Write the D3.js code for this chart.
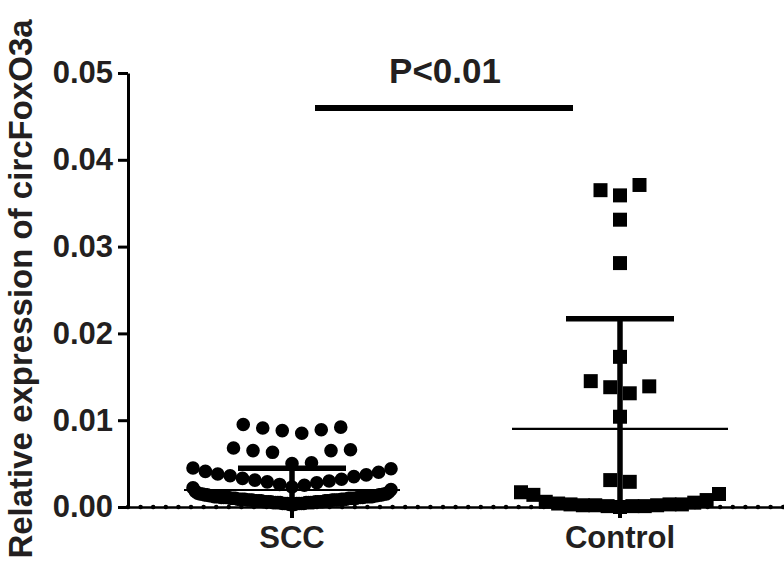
<!DOCTYPE html>
<html>
<head>
<meta charset="utf-8">
<script src="https://cdn.jsdelivr.net/npm/d3@7/dist/d3.min.js"></script>
<style>
  html, body { margin: 0; padding: 0; background: #fff; }
  svg { display: block; }
  text { font-family: "Liberation Sans", Arial, Helvetica, sans-serif; font-weight: bold; fill: #231f20; }
</style>
</head>
<body>
<svg id="chart" width="784" height="579"></svg>
<script>
// ---------------- data ----------------
const categories = ["SCC", "Control"];
const yTicks = [0, 0.01, 0.02, 0.03, 0.04, 0.05];
const yTitle = "Relative expression of circFoxO3a";
const pLabel = "P<0.01";

// SCC values, grouped in the rows of the scatter (top to bottom)
const sccRow1 = [0.0085, 0.0088, 0.0089, 0.0091, 0.0092, 0.0095];
const sccRow2 = [0.0050, 0.0051, 0.0063, 0.0065, 0.0065, 0.0066, 0.0068];
const sccRow3 = [0.0023, 0.0025, 0.0026, 0.0028, 0.0029, 0.0030, 0.0031, 0.0032, 0.0033,
                 0.0035, 0.0036, 0.0037, 0.0038, 0.0040, 0.0041, 0.0044, 0.0045];
const sccRow4 = [0.0003, 0.0003, 0.0003,
                 0.0004, 0.0004, 0.0004, 0.0004, 0.0004, 0.0004, 0.0004,
                 0.0005, 0.0005, 0.0005, 0.0005, 0.0005, 0.0005, 0.0005, 0.0005,
                 0.0006, 0.0006, 0.0006, 0.0006, 0.0006, 0.0006, 0.0006, 0.0006,
                 0.0007, 0.0007, 0.0007, 0.0007, 0.0007, 0.0007, 0.0007,
                 0.0008, 0.0008, 0.0008, 0.0008, 0.0008, 0.0008, 0.0008,
                 0.0009, 0.0009, 0.0009, 0.0009, 0.0009, 0.0009, 0.0009,
                 0.0010, 0.0010, 0.0010, 0.0010, 0.0010, 0.0010, 0.0010,
                 0.0011, 0.0011, 0.0011, 0.0011, 0.0011, 0.0011, 0.0011,
                 0.0012, 0.0012, 0.0012, 0.0012, 0.0012, 0.0012, 0.0012,
                 0.0013, 0.0013, 0.0013, 0.0013,
                 0.0014, 0.0014, 0.0014, 0.0014,
                 0.0015, 0.0015, 0.0015, 0.0015,
                 0.0016, 0.0017, 0.0018, 0.0020, 0.0022];

// Control values, grouped in rows (top to bottom)
const ctrlRow1 = [0.0359, 0.0371, 0.0365];
const ctrlRow2 = [0.0331];
const ctrlRow3 = [0.0281];
const ctrlRow4 = [0.0173];
const ctrlRow5 = [0.0131, 0.0138, 0.0139, 0.0145];
const ctrlRow6 = [0.0104];
const ctrlRow7 = [0.0029, 0.0031];
const ctrlRow8 = [0.0000, 0.0001, 0.0001, 0.0001, 0.0002, 0.0002, 0.0002, 0.0003, 0.0003,
                  0.0003, 0.0004, 0.0005, 0.0006, 0.0008, 0.0014, 0.0015, 0.0017];

// mean and SD
const means = [0.00196, 0.0090];
const sds = [0.0025, 0.0127];

// ---------------- drawing ----------------
const svg = d3.select("#chart");
const W = 784, H = 579;
const plotLeft = 128, plotRight = 784, plotTop = 73, plotBottom = 507;

const y = d3.scaleLinear().domain([0, 0.05]).range([plotBottom, plotTop]);
const x = d3.scaleBand().domain(categories).range([plotLeft, plotRight]).padding(0);
const cx = c => x(c) + x.bandwidth() / 2;

const groups = [
  { name: "SCC", rows: [sccRow1, sccRow2, sccRow3, sccRow4], symbol: "circle" },
  { name: "Control", rows: [ctrlRow1, ctrlRow2, ctrlRow3, ctrlRow4, ctrlRow5, ctrlRow6, ctrlRow7, ctrlRow8], symbol: "square" }
];

// place points of a row: center-out, alternating (right first on ties)
function rowOffsets(n) {
  const maxSpan = 198, maxStep = 19.5;
  const s = n > 1 ? Math.min(maxStep, maxSpan / (n - 1)) : 0;
  const slots = d3.range(n).map(k => (k - (n - 1) / 2) * s);
  slots.sort((a, b) => (Math.abs(a) - Math.abs(b)) || (b - a));
  return slots;
}

const points = [];
groups.forEach(g => {
  g.rows.forEach(row => {
    const offs = rowOffsets(row.length);
    row.forEach((v, i) => points.push({ group: g.name, symbol: g.symbol, value: v, dx: offs[i] }));
  });
});

// X axis line with dotted pattern
const xAxis = d3.axisBottom(x).tickSize(11).tickSizeOuter(0).tickPadding(8);
const gx = svg.append("g").attr("transform", `translate(0,${plotBottom})`).call(xAxis);
gx.select(".domain").attr("stroke", "#000").attr("stroke-width", 2.5);
gx.selectAll(".tick line").attr("stroke", "#000").attr("stroke-width", 4);
gx.selectAll(".tick text").attr("font-size", 31).attr("fill", "#231f20")
  .style("font-family", '"Liberation Sans", Arial, sans-serif').style("font-weight", "bold");

svg.append("line")
  .attr("x1", plotLeft).attr("x2", plotRight).attr("y1", plotBottom).attr("y2", plotBottom)
  .attr("stroke", "#000").attr("stroke-width", 4.5).attr("stroke-linecap", "round")
  .attr("stroke-dasharray", "0 12.6");

// Y axis
const yAxis = d3.axisLeft(y).tickValues(yTicks).tickFormat(d3.format(".2f")).tickSize(10).tickSizeOuter(0).tickPadding(5);
const gy = svg.append("g").attr("transform", `translate(${plotLeft},0)`).call(yAxis);
gy.select(".domain").attr("stroke", "#000").attr("stroke-width", 3);
gy.selectAll(".tick line").attr("stroke", "#000").attr("stroke-width", 3);
gy.selectAll(".tick text").attr("font-size", 31).attr("fill", "#231f20")
  .style("font-family", '"Liberation Sans", Arial, sans-serif').style("font-weight", "bold");

// points
const sym = d3.symbol();
const circleR = 6.8, squareSide = 14;
svg.append("g").selectAll("path.pt").data(points).join("path")
  .attr("class", "pt")
  .attr("transform", d => `translate(${cx(d.group) + d.dx},${y(d.value)})`)
  .attr("d", d => d.symbol === "circle"
    ? sym.type(d3.symbolCircle).size(Math.PI * circleR * circleR)()
    : sym.type(d3.symbolSquare).size(squareSide * squareSide)())
  .attr("fill", "#000");

// error bars (mean ± SD)
const eb = svg.append("g");
categories.forEach((c, i) => {
  const m = means[i], s = sds[i];
  const xc = cx(c);
  const top = y(m + s), bot = y(Math.max(0, m - s));
  eb.append("line").attr("x1", xc).attr("x2", xc).attr("y1", top).attr("y2", bot)
    .attr("stroke", "#000").attr("stroke-width", 5.5);
  eb.append("line").attr("x1", xc - 54).attr("x2", xc + 54).attr("y1", top).attr("y2", top)
    .attr("stroke", "#000").attr("stroke-width", 5.5);
  eb.append("line").attr("x1", xc - 108).attr("x2", xc + 108).attr("y1", y(m)).attr("y2", y(m))
    .attr("stroke", "#000").attr("stroke-width", 2.2);
});

// significance bar + label
svg.append("line").attr("x1", 315).attr("x2", 573).attr("y1", 108).attr("y2", 108)
  .attr("stroke", "#000").attr("stroke-width", 6);
svg.append("text").attr("x", 445).attr("y", 83).attr("text-anchor", "middle")
  .attr("font-size", 35).text(pLabel);

// y title
svg.append("text")
  .attr("transform", "translate(32,289) rotate(-90)")
  .attr("text-anchor", "middle").attr("font-size", 33).text(yTitle);
</script>
</body>
</html>
